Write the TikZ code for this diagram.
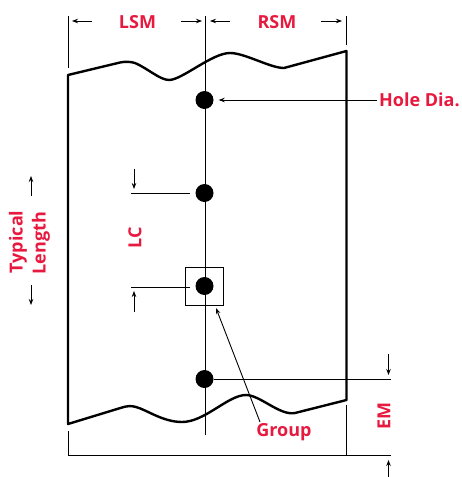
\documentclass[tikz,border=0pt]{standalone}
\usepackage{fontspec}
\setmainfont{Open Sans}
\usepackage{xcolor}
\usetikzlibrary{arrows.meta, calc}
\definecolor{labelred}{HTML}{E8193F}
\tikzset{
    lbl/.style={text=labelred, font=\fontsize{18}{19}\selectfont\bfseries, inner sep=0pt},
    hole/.style={circle, fill=black, minimum size=18pt, inner sep=0pt},
    thin line/.style={draw=black, line width=1pt},
    dim/.style={draw=black, line width=0.9pt, -{Stealth[length=6pt,width=4.5pt]}},
    edge line/.style={draw=black, line width=2.4pt, line join=round}
}
\begin{document}
\begin{tikzpicture}[x=1pt, y=-1pt]
    \useasboundingbox (0,0) rectangle (461,477);
    % Furo
    \node[hole] (holeA) at (204.5,100) {};
    \node[hole] (holeB) at (204.5,193) {};
    \node[hole] (holeC) at (204.5,286) {};
    \node[hole] (holeD) at (204.5,379) {};
    \node[draw, thin line, minimum size=38pt, inner sep=0pt] (groupBox) at (204.5,286) {};
    % Peca
    \draw[edge line] (68,424) -- (68,75) -- (120,62.5) .. controls (125,61.5) and (130,61.5) .. (135,63)
        .. controls (147,68) and (160,80) .. (169,80)
        .. controls (182,80) and (212,53) .. (230,53) .. controls (245,53) and (270,68) .. (284,68)
        -- (346.5,51) -- (346.5,400) -- (295,413) .. controls (280,416) and (260,395) .. (246,395)
        .. controls (228,395) and (205,422) .. (182,422) .. controls (163,422) and (147,410) .. (136,407)
        .. controls (131,405.5) and (127,406) .. (122,407.5)
        -- cycle;
    % Linha de centro
    \coordinate (centerTop) at (205.5,16);
    \coordinate (centerBot) at (205.5,435);
    \draw[thin line] (centerTop) -- (centerBot);
    % Textos
    \node[lbl] (lsm) at (137.5,22) {LSM};
    \node[lbl] (rsm) at (277,22) {RSM};
    \node[lbl, anchor=west] (holeDia) at (379,100) {Hole Dia.};
    \node[lbl, rotate=90] (typical) at (18,242) {Typical};
    \node[lbl, rotate=90] (length) at (41,243) {Length};
    \node[lbl, rotate=90] (lc) at (135,238) {LC};
    \node[lbl] (group) at (284,432) {Group};
    \node[lbl, rotate=90] (em) at (384,416) {EM};
    % Cotas LSM e RSM
    \coordinate (tickL) at (68,16);
    \coordinate (tickLb) at (68,68);
    \coordinate (tickR) at (346.5,16);
    \coordinate (tickRb) at (346.5,45);
    \draw[thin line] (tickL) -- (tickLb);
    \draw[thin line] (tickR) -- (tickRb);
    \coordinate (a1) at (92,21);
    \coordinate (a2) at (72,21);
    \coordinate (a3) at (181,21);
    \coordinate (a4) at (202,21);
    \coordinate (a5) at (230,21);
    \coordinate (a6) at (210,21);
    \coordinate (a7) at (321,21);
    \coordinate (a8) at (342,21);
    \draw[dim] (a1) -- (a2);
    \draw[dim] (a3) -- (a4);
    \draw[dim] (a5) -- (a6);
    \draw[dim] (a7) -- (a8);
    % Diametro
    \draw[dim] ($(holeDia.west)+(-2,0)$) -- ($(holeA.east)+(5,0)$);
    % Cota LC
    \coordinate (lcA) at (131,193);
    \coordinate (lcB) at (131,287);
    \draw[thin line] (lcA) -- ($(holeB.west)+(-5,0)$);
    \draw[thin line] (lcB) -- ($(holeC.west)+(-5,1)$);
    \coordinate (lc1) at (134,169);
    \coordinate (lc2) at (134,189);
    \coordinate (lc3) at (134,312);
    \coordinate (lc4) at (134,291);
    \draw[dim] (lc1) -- (lc2);
    \draw[dim] (lc3) -- (lc4);
    % Comprimento
    \coordinate (len1) at (31,196);
    \coordinate (len2) at (31,176);
    \coordinate (len3) at (31,285);
    \coordinate (len4) at (31,305);
    \draw[dim] (len1) -- (len2);
    \draw[dim] (len3) -- (len4);
    % Grupo
    \coordinate (groupTail) at (260,422);
    \coordinate (groupTip) at (216,308);
    \draw[dim] (groupTail) -- (groupTip);
    % Cota EM
    \coordinate (emA) at (391,379);
    \coordinate (emB) at (391,455.5);
    \coordinate (baseL) at (68,431);
    \coordinate (baseC) at (68,455.5);
    \coordinate (baseR) at (346.5,405);
    \coordinate (baseD) at (346.5,455.5);
    \draw[thin line] (holeD) -- (emA);
    \draw[thin line] (baseL) -- (baseC) -- (emB);
    \draw[thin line] (baseR) -- (baseD);
    \coordinate (em1) at (388.5,354);
    \coordinate (em2) at (388.5,375);
    \coordinate (em3) at (388.5,481);
    \coordinate (em4) at (388.5,460);
    \draw[dim] (em1) -- (em2);
    \draw[dim] (em3) -- (em4);
\end{tikzpicture}
\end{document}
